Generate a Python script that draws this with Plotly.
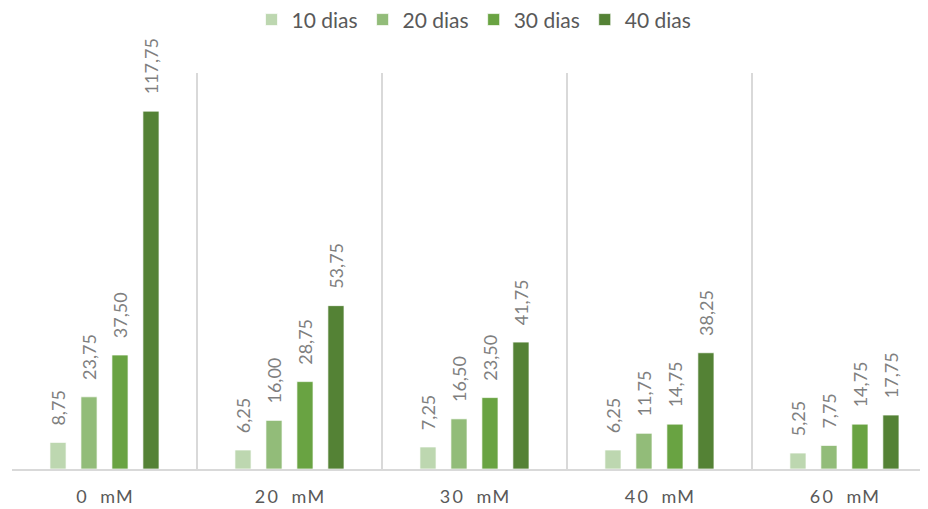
import plotly.graph_objects as go

categories = ["0 mM", "20 mM", "30 mM", "40 mM", "60 mM"]
series_names = ["10 dias", "20 dias", "30 dias", "40 dias"]
v10 = [8.75, 6.25, 7.25, 6.25, 5.25]
v20 = [23.75, 16.00, 16.50, 11.75, 7.75]
v30 = [37.50, 28.75, 23.50, 14.75, 14.75]
v40 = [117.75, 53.75, 41.75, 38.25, 17.75]
series_values = [v10, v20, v30, v40]
colors = ["#BDD7B0", "#92BC79", "#69A342", "#548235"]

def spaced(s):
    num, unit = s.split(" ")
    return "\u2009".join(num) + "\u2003" + "\u200a".join(unit)

fig = go.Figure()
for name, vals, col in zip(series_names, series_values, colors):
    fig.add_trace(go.Bar(
        name=name, x=categories, y=vals,
        marker=dict(color=col, line=dict(color="rgba(255,255,255,0.7)", width=1)),
        text=["\u00a0\u00a0\u00a0" + f"{v:.2f}".replace(".", ",") for v in vals],
        textposition="outside", textangle=-90, constraintext="none",
        textfont=dict(family="Lato, sans-serif", size=18, color="#7F7F7F"),
        cliponaxis=False,
    ))

fig.update_layout(
    width=928, height=509,
    margin=dict(l=4, r=0, t=65, b=48, autoexpand=False),
    paper_bgcolor="white", plot_bgcolor="white",
    barmode="group", bargap=0.33, bargroupgap=0.48,
    font=dict(family="Lato, sans-serif", color="#595959"),
    legend=dict(orientation="h", x=0.5, xanchor="center", y=1.134, yref="paper",
                yanchor="middle", font=dict(size=21, color="#595959"),
                itemwidth=30, traceorder="normal"),
    showlegend=True,
)
fig.update_xaxes(
    range=[-0.5, 4.495], tickson="boundaries", showgrid=True, gridcolor="#D9D9D9", gridwidth=1.5,
    showline=True, linecolor="#D9D9D9", linewidth=1.5, ticks="",
    tickmode="array", tickvals=categories, ticktext=[spaced(c) for c in categories],
    tickfont=dict(size=18, color="#595959"), ticklabelstandoff=11,
)
fig.update_yaxes(range=[0, 130.3], showgrid=False, showticklabels=False, zeroline=False)

fig.write_html("out.html")
